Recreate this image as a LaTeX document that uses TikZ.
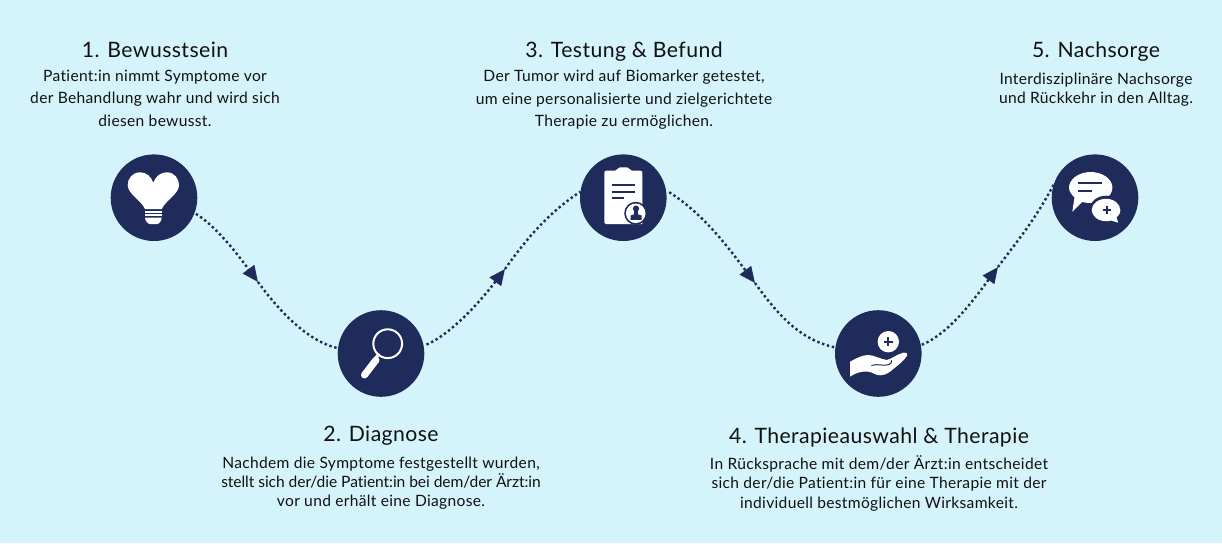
\documentclass[tikz,border=0pt]{standalone}
\usepackage{fontspec}
\setmainfont{Lato}[LetterSpace=2.0,Ligatures=NoCommon]
\usetikzlibrary{arrows.meta}
\definecolor{bgc}{HTML}{D5F3FA}
\definecolor{navy}{HTML}{1F2B5B}
\definecolor{txt}{HTML}{111111}
\tikzset{
  stepdisc/.style={circle,fill=navy,minimum size=86.6pt,inner sep=0pt,outer sep=0pt},
  flow/.style={navy,line width=2.4pt,dash pattern=on 2.4pt off 2.7pt},
  flowtip/.style={flow,-{Triangle[length=16pt,width=14pt,fill=navy]}},
  heading/.style={font=\fontsize{21.2}{24}\selectfont,text=txt,anchor=base,inner sep=0pt},
  body/.style={font=\fontsize{15.6}{22.9}\selectfont,text=txt,align=center,anchor=north,inner sep=0pt},
  bodytight/.style={font=\fontsize{15.6}{19.4}\selectfont,text=txt,align=center,anchor=north,inner sep=0pt},
  ink/.style={fill=white,draw=none},
  cut/.style={navy,line width=2.1pt}
}
\begin{document}
\begin{tikzpicture}[x=1pt,y=-1pt]
\useasboundingbox (0,0) rectangle (1222,543);
\fill[bgc] (0,0) rectangle (1222,543);
% discs
\node[stepdisc] (n1) at (154,197.7) {};
\node[stepdisc] (n2) at (381,353.5) {};
\node[stepdisc] (n3) at (623.3,197.7) {};
\node[stepdisc] (n4) at (878.3,353.5) {};
\node[stepdisc] (n5) at (1095,197.7) {};
% arrow positions
\coordinate (a1) at (258,282);
\coordinate (a2) at (505,269);
\coordinate (a3) at (755,283);
\coordinate (a4) at (998,267);
% connectors
\draw[flowtip] ([shift={(1.5,0.6)}]n1.-21.5) .. controls (217,227) and (238,255) .. (a1);
\draw[flow] (a1) .. controls (282,315) and (310,342) .. (n2.173);
\draw[flowtip] ([shift={(3,-0.6)}]n2.11.7) .. controls (453,333) and (483,298) .. (a2);
\draw[flow] (a2) .. controls (530,234) and (550,212) .. (n3.172);
\draw[flowtip] ([shift={(3,0.5)}]n3.8) .. controls (705,215) and (730,250) .. (a3);
\draw[flow] (a3) .. controls (778,315) and (800,340) .. (n4.172);
\draw[flowtip] ([shift={(1,-0.4)}]n4.11.7) .. controls (950,333) and (975,298) .. (a4);
\draw[flow] (a4) .. controls (1018,240) and (1035,220) .. (n5.162);
% icon 1: heart bulb
\fill[ink] (153.3,182.7) .. controls (151,176) and (146,172.3) .. (140,172.3)
  .. controls (132,172.3) and (127.7,179) .. (127.7,185)
  .. controls (127.7,194) and (141,200) .. (145,209)
  -- (161.7,209) .. controls (166,200) and (179,194) .. (179,185)
  .. controls (179,179) and (174.5,172.3) .. (167,172.3)
  .. controls (161,172.3) and (155.5,176) .. (153.3,182.7) -- cycle;
\fill[ink] (145,210.5) rectangle (161.7,212.5);
\fill[ink] (145,213.8) rectangle (161.7,216.3);
\fill[ink] (145,217.5) -- (161.7,217.5) .. controls (161.7,221) and (159,224) .. (157,224) -- (150,224) .. controls (148,224) and (145,221) .. (145,217.5) -- cycle;
% icon 2: magnifier
\draw[white,line width=2pt] (387.7,343.7) circle (14.4);
\draw[white,line width=3pt] (379,353.5) -- (375,359);
\draw[white,line width=7pt,line cap=round] (376,360) -- (364.5,375);
% icon 3: clipboard
\fill[ink] (606.3,170.7) -- (615,170.7) .. controls (617,170.7) and (618,167.3) .. (620,167.3) -- (627,167.3) .. controls (629,167.3) and (630,170.7) .. (632,170.7) -- (640.3,170.7) .. controls (641.5,170.7) and (642.3,171.5) .. (642.3,172.7) -- (642.3,224) -- (606.3,224) .. controls (605,224) and (604.3,223) .. (604.3,222) -- (604.3,172.7) .. controls (604.3,171.5) and (605,170.7) .. (606.3,170.7) -- cycle;
\draw[cut] (611.7,185) -- (635,185) (611.7,191.7) -- (635,191.7) (611.7,198.3) -- (623.5,198.3);
\fill[navy] (635.7,213.3) circle (11.5);
\fill[white] (635.7,213.3) circle (9.8);
\fill[navy] (636,208.6) circle (3.1);
\fill[navy] (634.4,210) -- (637.6,210) -- (638.2,214.5) -- (641.5,215.5) -- (641.5,219.8) -- (630.5,219.8) -- (630.5,215.5) -- (633.8,214.5) -- cycle;
% icon 4: hand
\fill[white] (888.3,341.7) circle (10.7);
\draw[navy,line width=1.8pt] (884,341.7) -- (892.6,341.7) (888.3,337.4) -- (888.3,346);
\fill[ink] (850,361.7) .. controls (856,358.5) and (862,355) .. (868.3,355)
  .. controls (874,355) and (880,359) .. (886.7,360)
  .. controls (891,359.5) and (897,354) .. (903.3,352.7)
  .. controls (906,352) and (908,353) .. (907.3,355)
  .. controls (905,360) and (897,366) .. (890,371.7)
  .. controls (886,374.5) and (883,375.3) .. (880,375.3)
  .. controls (875,375.3) and (872,371.7) .. (868.3,371.7)
  .. controls (862,371) and (856,372.5) .. (850,376.7) -- cycle;
\draw[navy,line width=1pt,line cap=round] (871.7,365.3) .. controls (878,363.5) and (884,366.5) .. (889,364.5) .. controls (891,363.5) and (892,362) .. (891.5,360.5);
% icon 5: chat
\fill[ink] (1090.7,172) .. controls (1103,172) and (1112.4,179.5) .. (1112.4,187.5)
  .. controls (1112.4,196) and (1103,203) .. (1090.7,203)
  .. controls (1087,203) and (1084,202.5) .. (1082,202)
  -- (1072.3,211.7) -- (1074.5,197.5)
  .. controls (1071,194) and (1069,191) .. (1069,187.5)
  .. controls (1069,179.5) and (1078.4,172) .. (1090.7,172) -- cycle;
\draw[cut] (1077.7,183.3) -- (1101.7,183.3) (1077.7,190.7) -- (1091.7,190.7);
\fill[navy] (1106,209.5) ellipse [x radius=16.3,y radius=13.8];
\fill[ink] (1106,198.8) .. controls (1114,198.8) and (1120.3,204) .. (1120.3,210)
  .. controls (1120.3,213.5) and (1118.5,216) .. (1116.5,217.5)
  -- (1118.3,222.7) -- (1111,220.5)
  .. controls (1109.5,221) and (1107.5,221.2) .. (1106,221.2)
  .. controls (1098,221.2) and (1091.7,216) .. (1091.7,210)
  .. controls (1091.7,204) and (1098,198.8) .. (1106,198.8) -- cycle;
\draw[navy,line width=1.8pt] (1102.7,210.3) -- (1110.7,210.3) (1106.7,206.3) -- (1106.7,214.3);
% texts
\node[heading] (t1) at (155,57) {1. Bewusstsein};
\node[body] (b1) at (155,69.5) {Patient:in nimmt Symptome vor\\der Behandlung wahr und wird sich\\diesen bewusst.};
\node[heading] (t2) at (381,441) {2. Diagnose};
\node[bodytight] (b2) at (381,456.5) {Nachdem die Symptome festgestellt wurden,\\{\addfontfeatures{LetterSpace=-0.5}stellt sich der/die Patient:in bei dem/der Ärzt:in}\\vor und erhält eine Diagnose.};
\node[heading] (t3) at (624,57) {3. Testung \& Befund};
\node[body] (b3) at (624,69.5) {Der Tumor wird auf Biomarker getestet,\\um eine personalisierte und zielgerichtete\\Therapie zu ermöglichen.};
\node[heading] (t4) at (879,443) {4. Therapieauswahl \& Therapie};
\node[bodytight] (b4) at (879,455.5) {In Rücksprache mit dem/der Ärzt:in entscheidet\\sich der/die Patient:in für eine Therapie mit der\\individuell bestmöglichen Wirksamkeit.};
\node[heading] (t5) at (1096,57) {5. Nachsorge};
\node[bodytight] (b5) at (1096,72.5) {Interdisziplinäre Nachsorge\\und Rückkehr in den Alltag.};
\end{tikzpicture}
\end{document}
